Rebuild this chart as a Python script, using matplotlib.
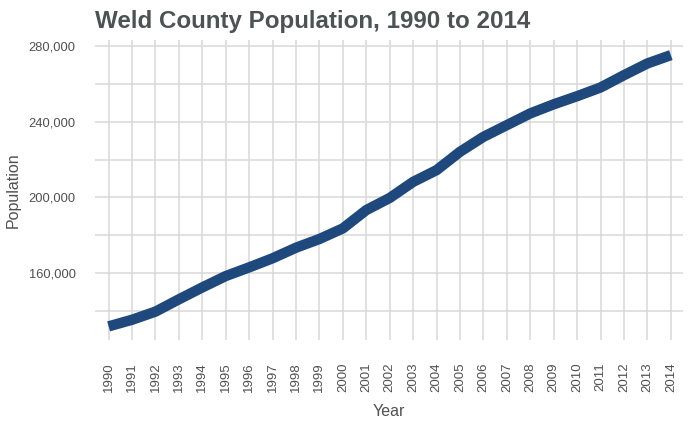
import matplotlib
matplotlib.use('Agg')
import matplotlib.pyplot as plt
from matplotlib.ticker import FuncFormatter, MultipleLocator

# Weld County population
years = list(range(1990, 2015))
population = [131800, 135300, 139600, 146100, 152400, 158400, 163000, 167800,
              173400, 178000, 183600, 193300, 199700, 208200, 214400, 224100,
              232000, 238200, 244400, 249200, 253500, 258100, 264600, 270800,
              275200]
yticks = [160000, 200000, 240000, 280000]

plt.rcParams['font.family'] = ['Liberation Sans', 'DejaVu Sans']

fig = plt.figure(figsize=(6.9, 4.21), dpi=100)
ax = fig.add_axes([0.1377, 0.1924, 0.8522, 0.7126])

ax.plot(years, population, color='#1f497d', lw=7.5, solid_capstyle='butt',
        solid_joinstyle='round', zorder=3)

ax.set_xlim(1989.42, 2014.52)
ax.set_ylim(124600, 283200)
ax.set_xticks(years)
ax.set_xticklabels([str(y) for y in years], rotation=90)
ax.set_yticks(yticks)
ax.yaxis.set_minor_locator(MultipleLocator(20000))
ax.yaxis.set_major_formatter(FuncFormatter(lambda v, p: f'{int(v):,}'))

ax.grid(True, which='both', color='#d9d9d9', lw=1.1)
ax.set_axisbelow(True)
for s in ax.spines.values():
    s.set_visible(False)
ax.tick_params(which='both', length=0)
ax.tick_params(axis='y', pad=14, labelsize=9.3, labelcolor='#505050')
ax.tick_params(axis='x', pad=16, labelsize=9.5, labelcolor='#505050')

ax.set_xlabel('Year', fontsize=11.5, color='#505050', labelpad=9)
ax.set_ylabel('Population', fontsize=11.5, color='#505050')
ax.yaxis.set_label_coords(-0.127, 0.5)
fig.text(0.1377, 0.95, 'Weld County Population, 1990 to 2014', fontsize=17.4,
         fontweight='bold', color='#4d5254', ha='left', va='center')

fig.savefig('out.png', dpi=100)
